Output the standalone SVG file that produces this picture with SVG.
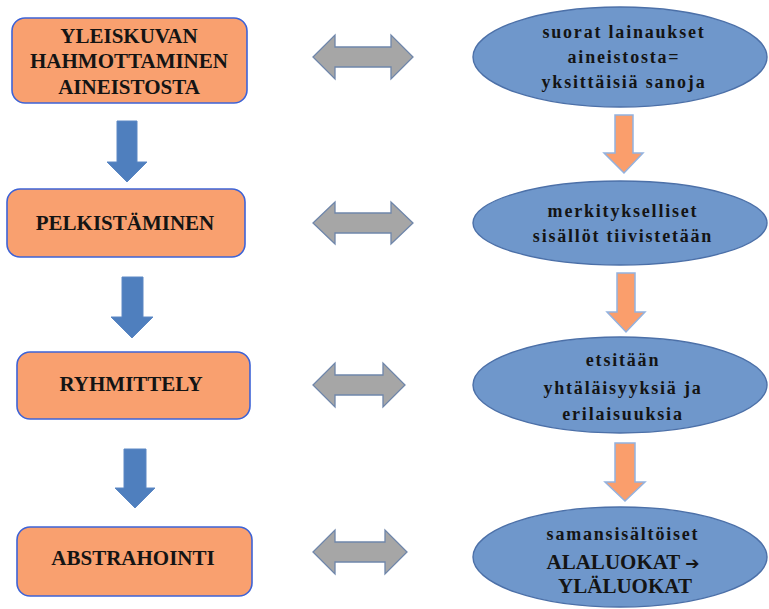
<svg xmlns="http://www.w3.org/2000/svg" width="769" height="609" viewBox="0 0 769 609">
  <style>
    .step { fill: #F9A06F; stroke: #3E63D6; stroke-width: 1.6; }
    .step-text { font-family: "Liberation Serif", "Times New Roman", serif; font-weight: bold; font-size: 21px; fill: #141414; text-anchor: middle; }
    .note { fill: #6F97CB; stroke: #4C70A8; stroke-width: 1.4; }
    .note-text { font-family: "Liberation Serif", "Times New Roman", serif; font-weight: bold; font-size: 18px; letter-spacing: 1.8px; fill: #141414; text-anchor: middle; }
    .note-caps { font-size: 21px; letter-spacing: 0px; }
    .arrow-glyph { font-family: "DejaVu Sans", sans-serif; font-size: 17px; }
    .flow-down { fill: #4F7FBE; stroke: #5C88C4; stroke-width: 1; }
    .note-down { fill: #FA9E6C; stroke: #93B2DF; stroke-width: 1.5; }
    .link { fill: #A6A6A6; stroke: #6F86AA; stroke-width: 1.3; }
  </style>

  <rect width="769" height="609" fill="#FFFFFF"/>

  <!-- process steps (left column) -->
  <g id="step-yleiskuva">
    <rect class="step" x="12" y="18" width="235" height="85" rx="13"/>
    <text class="step-text" x="129" y="43">YLEISKUVAN</text>
    <text class="step-text" x="129" y="68">HAHMOTTAMINEN</text>
    <text class="step-text" x="129" y="94">AINEISTOSTA</text>
  </g>
  <g id="step-pelkistaminen">
    <rect class="step" x="7" y="189" width="238" height="68" rx="13"/>
    <text class="step-text" x="125" y="230">PELKISTÄMINEN</text>
  </g>
  <g id="step-ryhmittely">
    <rect class="step" x="17" y="352" width="233" height="67" rx="13"/>
    <text class="step-text" x="131" y="391">RYHMITTELY</text>
  </g>
  <g id="step-abstrahointi">
    <rect class="step" x="17" y="527" width="235" height="69" rx="13"/>
    <text class="step-text" x="133" y="565">ABSTRAHOINTI</text>
  </g>

  <!-- descriptions (right column) -->
  <g id="note-lainaukset">
    <ellipse class="note" cx="620" cy="57" rx="147" ry="50"/>
    <text class="note-text" x="624" y="38">suorat lainaukset</text>
    <text class="note-text" x="624" y="63">aineistosta=</text>
    <text class="note-text" x="624" y="88">yksittäisiä sanoja</text>
  </g>
  <g id="note-tiivistys">
    <ellipse class="note" cx="620" cy="223" rx="147" ry="42"/>
    <text class="note-text" x="623" y="217">merkitykselliset</text>
    <text class="note-text" x="623" y="242">sisällöt tiivistetään</text>
  </g>
  <g id="note-vertailu">
    <ellipse class="note" cx="620" cy="385" rx="147" ry="48"/>
    <text class="note-text" x="623" y="366">etsitään</text>
    <text class="note-text" x="623" y="394">yhtäläisyyksiä ja</text>
    <text class="note-text" x="623" y="420">erilaisuuksia</text>
  </g>
  <g id="note-luokat">
    <ellipse class="note" cx="620" cy="557" rx="147" ry="50"/>
    <text class="note-text" x="623" y="540">samansisältöiset</text>
    <text class="note-text note-caps" x="623" y="569">ALALUOKAT <tspan class="arrow-glyph">➔</tspan></text>
    <text class="note-text note-caps" x="625" y="593">YLÄLUOKAT</text>
  </g>

  <!-- connectors -->
  <g id="connectors">
    <!-- step to step -->
    <polygon class="flow-down" points="117,121 137,121 137,162 147,162 127,182 107,162 117,162"/>
    <polygon class="flow-down" points="122,277 143,277 143,317 153,317 132,338 111,317 122,317"/>
    <polygon class="flow-down" points="124,449 146,449 146,488 155,488 135,508 115,488 124,488"/>

    <!-- description to description -->
    <polygon class="note-down" points="615,115 633,115 633,153 643,153 624,173 604,153 615,153"/>
    <polygon class="note-down" points="617,273 635,273 635,312 645,312 626,332 607,312 617,312"/>
    <polygon class="note-down" points="615,443 635,443 635,482 645,482 625,501 605,482 615,482"/>

    <!-- step to description, both ways -->
    <polygon class="link" points="313,57 335,35 335,47 391,47 391,35 413,57 391,79 391,67 335,67 335,79"/>
    <polygon class="link" points="313,223 335,202 335,213 391,213 391,202 413,223 391,244 391,233 335,233 335,244"/>
    <polygon class="link" points="313,385 335,363 335,375 383,375 383,363 405,385 383,407 383,395 335,395 335,407"/>
    <polygon class="link" points="313,552 335,530 335,542 385,542 385,530 407,552 385,574 385,562 335,562 335,574"/>
  </g>
</svg>
